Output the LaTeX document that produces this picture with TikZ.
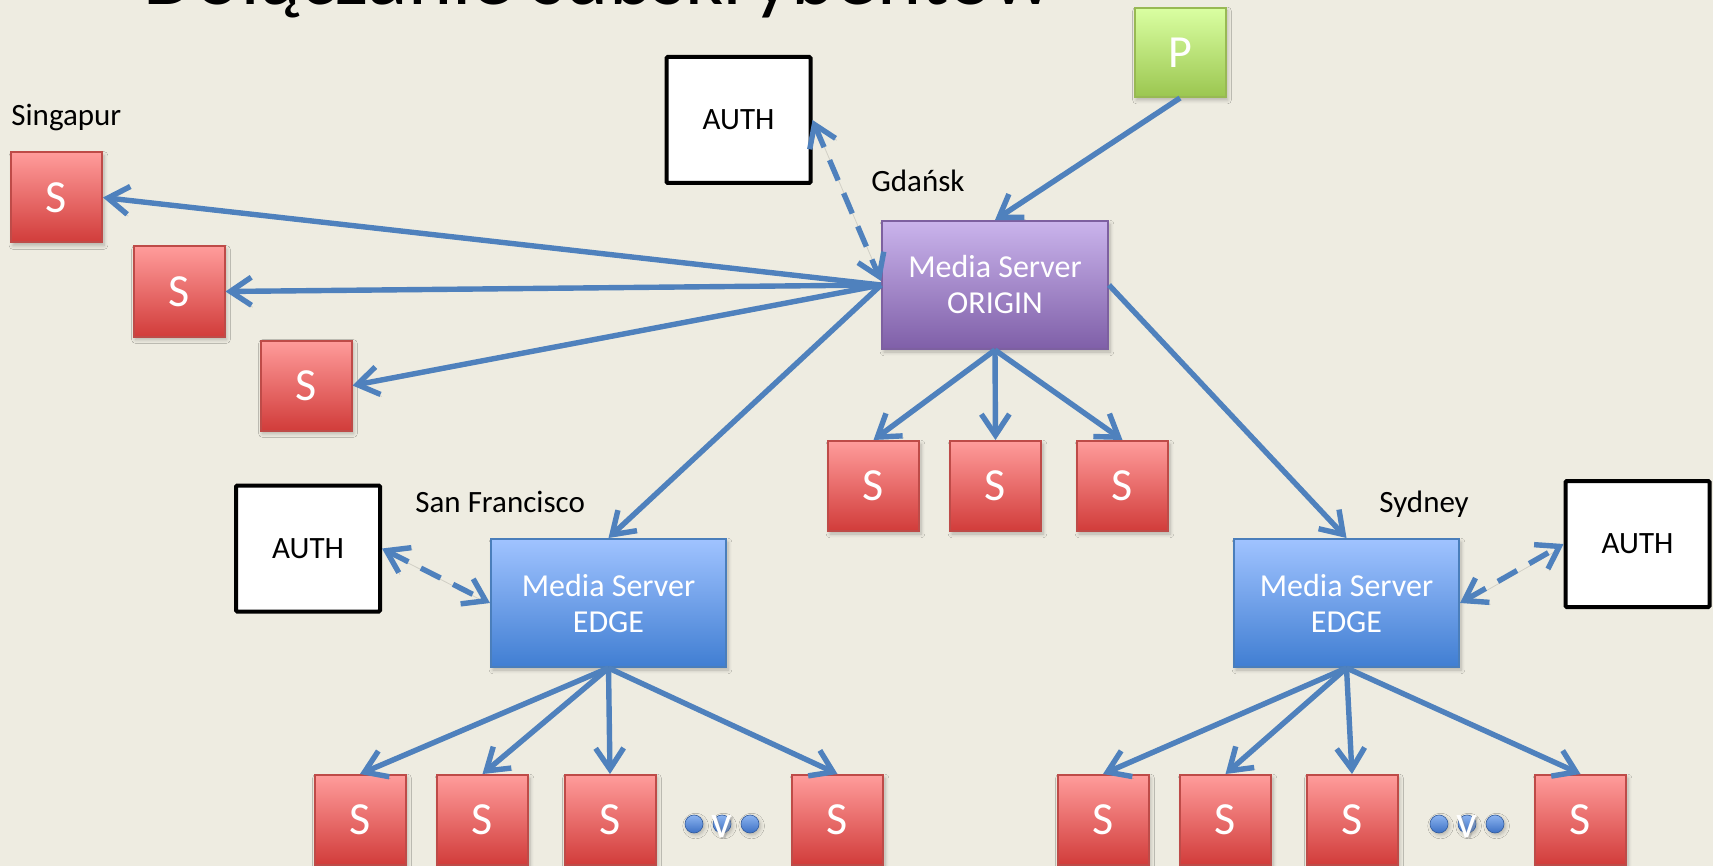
\documentclass[tikz,border=0pt]{standalone}
\usepackage{fontspec}
\setmainfont{Carlito}
\usetikzlibrary{arrows.meta,shadows.blur}

\definecolor{bgc}{RGB}{238,236,225}
\definecolor{arr}{RGB}{79,129,189}
\definecolor{stop}{RGB}{255,156,155}
\definecolor{sbot}{RGB}{209,60,58}
\definecolor{sedge}{RGB}{190,75,72}
\definecolor{otop}{RGB}{202,180,236}
\definecolor{obot}{RGB}{127,95,168}
\definecolor{oedge}{RGB}{125,96,160}
\definecolor{etop}{RGB}{160,195,255}
\definecolor{ebot}{RGB}{64,126,210}
\definecolor{eedge}{RGB}{74,126,187}
\definecolor{ptop}{RGB}{218,255,162}
\definecolor{pbot}{RGB}{155,198,80}
\definecolor{pedge}{RGB}{152,185,84}
\definecolor{dtop}{RGB}{140,180,240}
\definecolor{dbot}{RGB}{60,112,196}

\tikzset{
  x=0.5pt, y=-0.5pt,
  box/.style={draw, line width=1pt, inner sep=0pt, text=white,
    blur shadow={shadow xshift=1pt, shadow yshift=-1.5pt,
      shadow blur steps=6, shadow opacity=25}},
  sbox/.style={box, draw=sedge, top color=stop, bottom color=sbot,
    minimum width=45.5pt, minimum height=45pt,
    font=\fontsize{23}{26}\selectfont},
  pbox/.style={box, draw=pedge, top color=ptop, bottom color=pbot,
    minimum width=45.5pt, minimum height=44.5pt,
    font=\fontsize{23}{26}\selectfont},
  origin/.style={box, draw=oedge, top color=otop, bottom color=obot,
    minimum width=113pt, minimum height=64pt, align=center,
    font=\fontsize{16}{18}\selectfont},
  edgebox/.style={box, draw=eedge, top color=etop, bottom color=ebot,
    minimum height=64pt, align=center,
    font=\fontsize{16}{18}\selectfont},
  auth/.style={draw=black, fill=white, line width=2pt, rounded corners=0.6pt,
    minimum width=72pt, minimum height=63pt, inner sep=0pt,
    font=\fontsize{15.5}{18}\selectfont},
  place/.style={anchor=base west, inner sep=0pt,
    font=\fontsize{15.5}{18}\selectfont},
  conn/.style={draw=arr, line width=2.7pt, line join=round,
    -{Straight Barb[length=10.5pt,width=14pt]},
    preaction={draw=black, opacity=0.12, transform canvas={xshift=0.6pt,yshift=-1pt}}},
  dconn/.style={conn,
    {Straight Barb[length=10.5pt,width=14pt]}-{Straight Barb[length=10.5pt,width=14pt]},
    dash pattern=on 11pt off 7pt},
  dot/.style={circle, draw=dbot!80!black, line width=0.3pt,
    top color=dtop, bottom color=dbot, minimum size=9pt, inner sep=0pt,
    blur shadow={shadow xshift=0.8pt, shadow yshift=-1pt,
      shadow blur steps=4, shadow opacity=25}},
  vmark/.style={text=white, inner sep=0pt, font=\fontsize{23}{26}\selectfont},
  vshade/.style={text=black!45, opacity=0.4, inner sep=0pt,
    font=\fontsize{23}{26}\selectfont},
}

\begin{document}
\begin{tikzpicture}
  % canvas
  \fill[bgc] (0,0) rectangle (1713,866);
  \useasboundingbox (0,0) rectangle (1713,866);

  % heading, only its lower edge falls on the page
  \node[anchor=base west, inner sep=0pt, font=\fontsize{42}{50}\selectfont]
    (title) at (143,5) {Dołączanie subskrybentów};

  % publisher and servers
  \node[pbox] (p) at (1180,52.5) {P};
  \node[origin] (origin) at (995,285) {Media Server\\ORIGIN};
  \node[edgebox, minimum width=117.5pt] (edgeL) at (608.5,603) {Media Server\\EDGE};
  \node[edgebox, minimum width=112.5pt] (edgeR) at (1346.5,603) {Media Server\\EDGE};

  % authorisation services
  \node[auth] (authT) at (738.5,120) {AUTH};
  \node[auth] (authL) at (308,548.5) {AUTH};
  \node[auth] (authR) at (1637.5,544) {AUTH};

  % place names
  \node[place] (lsing) at (11,126) {Singapur};
  \node[place] (lgdansk) at (871,192) {Gdańsk};
  \node[place] (lsf) at (415,512) {San Francisco};
  \node[place] (lsyd) at (1379,512) {Sydney};

  % subscribers in Singapur
  \node[sbox] (sg1) at (56.5,197.5) {S};
  \node[sbox] (sg2) at (179,291.5) {S};
  \node[sbox] (sg3) at (306,385.5) {S};

  % subscribers in Gdańsk
  \node[sbox] (gd1) at (873.5,486) {S};
  \node[sbox] (gd2) at (995.5,486) {S};
  \node[sbox] (gd3) at (1122.5,486) {S};

  % subscribers in San Francisco
  \node[sbox] (sf1) at (360,820) {S};
  \node[sbox] (sf2) at (482.5,820) {S};
  \node[sbox] (sf3) at (610,820) {S};
  \node[sbox] (sf4) at (837.5,820) {S};

  % subscribers in Sydney
  \node[sbox] (sy1) at (1103,820) {S};
  \node[sbox] (sy2) at (1225.5,820) {S};
  \node[sbox] (sy3) at (1352,820) {S};
  \node[sbox] (sy4) at (1580.5,820) {S};

  % "and more" markers
  \node[dot] (dl1) at (694,824) {};
  \node[dot] (dl2) at (722,824) {};
  \node[dot] (dl3) at (750,824) {};
  \node[vshade] (vsl) at (723.5,829) {v};
  \node[vmark] (vl) at (722,827) {v};
  \node[dot] (dr1) at (1439,824) {};
  \node[dot] (dr2) at (1467,824) {};
  \node[dot] (dr3) at (1495,824) {};
  \node[vshade] (vsr) at (1468.5,829) {v};
  \node[vmark] (vr) at (1467,827) {v};

  % stream distribution
  \draw[conn] (p.south) -- (origin.north);
  \draw[conn] (origin.west) -- (sg1.east);
  \draw[conn] (origin.west) -- (sg2.east);
  \draw[conn] (origin.west) -- (sg3.east);
  \draw[conn] (origin.west) -- (edgeL.north);
  \draw[conn] (origin.east) -- (edgeR.north);
  \draw[conn] (origin.south) -- (gd1.north);
  \draw[conn] (origin.south) -- (gd2.north);
  \draw[conn] (origin.south) -- (gd3.north);
  \draw[conn] (edgeL.south) -- (sf1.north);
  \draw[conn] (edgeL.south) -- (sf2.north);
  \draw[conn] (edgeL.south) -- (sf3.north);
  \draw[conn] (edgeL.south) -- (sf4.north);
  \draw[conn] (edgeR.south) -- (sy1.north);
  \draw[conn] (edgeR.south) -- (sy2.north);
  \draw[conn] (edgeR.south) -- (sy3.north);
  \draw[conn] (edgeR.south) -- (sy4.north);

  % authorisation requests
  \draw[dconn] (authT.east) -- ([yshift=2pt]origin.west);
  \draw[dconn] (authL.east) -- (edgeL.west);
  \draw[dconn] (edgeR.east) -- (authR.west);
\end{tikzpicture}
\end{document}
